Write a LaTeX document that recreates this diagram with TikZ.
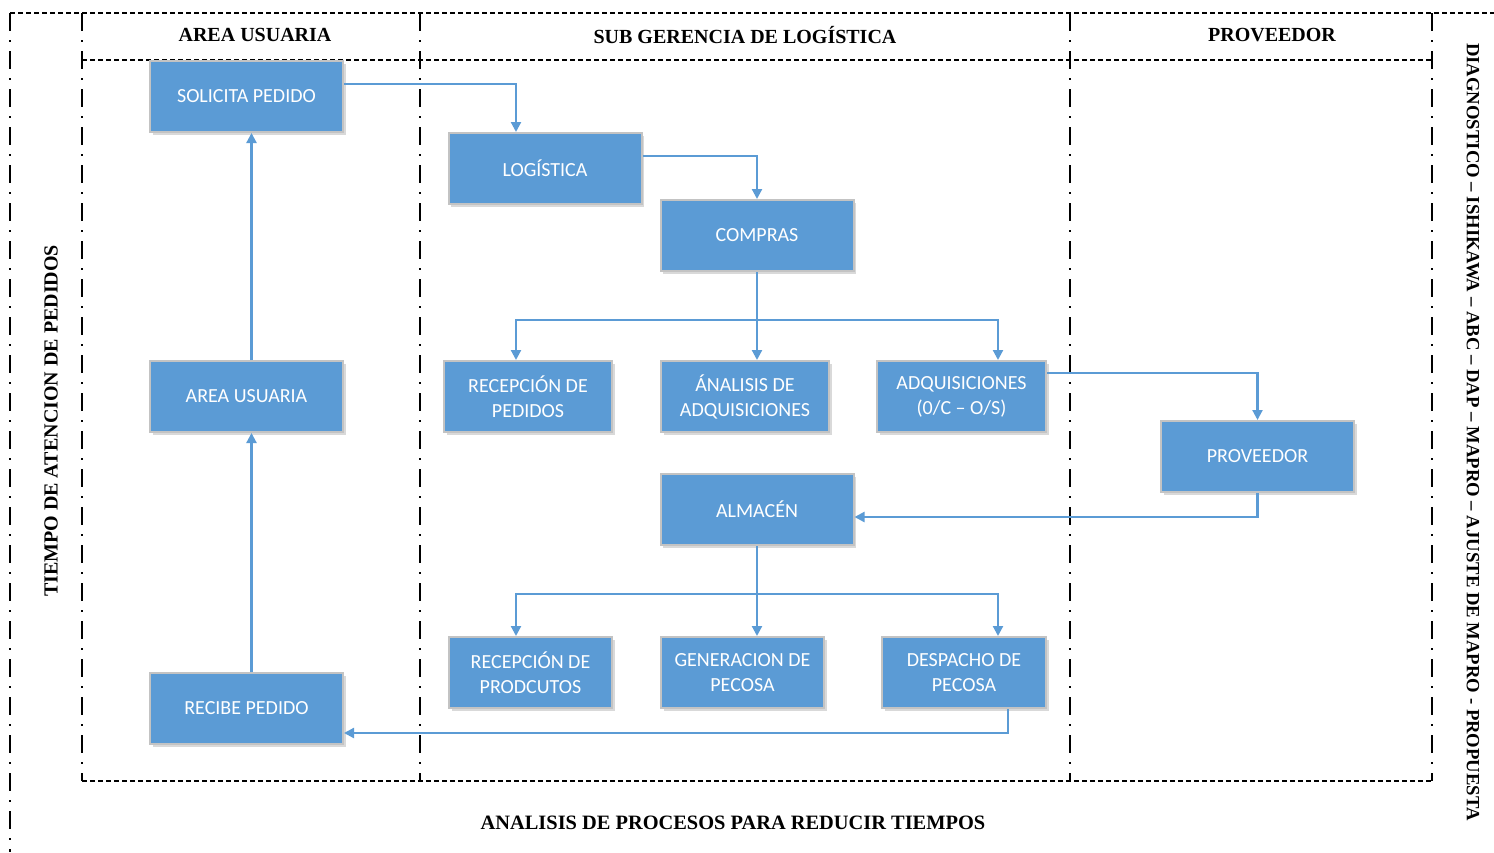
\documentclass[tikz,border=0pt]{standalone}
\usepackage{fontspec}
\setmainfont{Liberation Serif}
\newfontfamily\boxfont{Carlito}
\usetikzlibrary{arrows.meta,shadows}
\definecolor{boxblue}{HTML}{5B9BD5}
\definecolor{boxedge}{HTML}{C3C3C3}
\tikzset{
  procbox/.style={draw=boxedge, line width=2pt, fill=boxblue, text=white,
    minimum width=193pt, minimum height=71pt, inner sep=0pt, align=center,
    font=\boxfont\fontsize{20}{25}\selectfont,
    drop shadow={opacity=0.25, shadow xshift=2.5pt, shadow yshift=-2.5pt, fill=black!60}},
  conn/.style={draw=boxblue, line width=2.2pt},
  arr/.style={conn, -{Triangle[width=10pt,length=10pt]}},
  vline/.style={line width=2.4pt, dash pattern=on 18pt off 9pt on 2pt off 9pt},
  hline/.style={line width=2.2pt, dash pattern=on 5pt off 3pt},
  title/.style={font=\bfseries\fontsize{20}{24}\selectfont, inner sep=0pt}
}
\begin{document}
\begin{tikzpicture}[x=1pt,y=-1pt]
\useasboundingbox (0,0) rectangle (1494,852);
% frame lines
\draw[hline] (10,13) -- (1494,13);
\draw[hline] (82,60) -- (1432,60);
\draw[hline] (82,781) -- (1432,781);
\draw[vline] (10,13) -- (10,852);
\draw[vline] (82,13) -- (82,781);
\draw[vline] (420,13) -- (420,781);
\draw[vline] (1070,13) -- (1070,781);
\draw[vline] (1432,13) -- (1432,781);
% titles
\node[title] (t1) at (255,35) {AREA USUARIA};
\node[title] (t2) at (745,35) {SUB GERENCIA DE LOGÍSTICA};
\node[title] (t3) at (1272,35) {PROVEEDOR};
\node[title, rotate=90] (tl) at (51,421) {TIEMPO DE ATENCION DE PEDIDOS};
\node[title, rotate=-90, font=\bfseries\fontsize{18.7}{22}\selectfont] (tr) at (1473,432) {DIAGNOSTICO – ISHIKAWA – ABC – DAP – MAPRO – AJUSTE DE MAPRO - PROPUESTA};
\node[title, font=\bfseries\fontsize{20.4}{24}\selectfont] (tb) at (733,823) {ANALISIS DE PROCESOS PARA REDUCIR TIEMPOS};
% boxes
\node[procbox] (sol) at (246.5,96.5) {SOLICITA PEDIDO};
\node[procbox] (log) at (545,168.5) {LOGÍSTICA};
\node[procbox] (com) at (757,235.5) {COMPRAS};
\node[procbox, minimum width=168pt] (rp) at (528,396.5) {RECEPCIÓN DE\\PEDIDOS};
\node[procbox, minimum width=168pt] (an) at (745,396.5) {ÁNALISIS DE\\ADQUISICIONES};
\node[procbox, minimum width=169pt] (adq) at (961.5,396.5) {ADQUISICIONES\\(0/C – O/S)};
\node[procbox] (au) at (246.5,396.5) {AREA USUARIA};
\node[procbox] (prov) at (1257.5,456.5) {PROVEEDOR};
\node[procbox] (alm) at (757,509.5) {ALMACÉN};
\node[procbox, minimum width=163pt] (rpr) at (530.5,672.5) {RECEPCIÓN DE\\PRODCUTOS};
\node[procbox, minimum width=163pt] (gen) at (742.5,672.5) {GENERACION DE\\PECOSA};
\node[procbox, minimum width=164pt] (des) at (964,672.5) {DESPACHO DE\\PECOSA};
\node[procbox] (rec) at (246.5,708.5) {RECIBE PEDIDO};
% junctions
\coordinate (j1) at (757,320);
\coordinate (j2) at (757,594);
% connectors
\draw[arr] ([yshift=12.5pt]sol.east) -| ([xshift=-29pt]log.north);
\draw[arr] ([yshift=12.5pt]log.east) -| (com.north);
\draw[conn] (com.south) -- (j1);
\draw[arr] (j1) -| ([xshift=-12pt]rp.north);
\draw[arr] (j1) -- (an.north -| j1);
\draw[arr] (j1) -| ([xshift=36.5pt]adq.north);
\draw[arr] ([yshift=23.5pt]adq.east) -| (prov.north);
\draw[arr] (prov.south) |- ([yshift=-7.5pt]alm.east);
\draw[conn] (alm.south) -- (j2);
\draw[arr] (j2) -| ([xshift=-14.5pt]rpr.north);
\draw[arr] (j2) -- (gen.north -| j2);
\draw[arr] (j2) -| ([xshift=34pt]des.north);
\draw[arr] ([xshift=44pt]des.south) |- ([yshift=-24.5pt]rec.east);
\draw[arr] ([xshift=5pt]rec.north) -- ([xshift=5pt]au.south);
\draw[arr] ([xshift=5pt]au.north) -- ([xshift=5pt]sol.south);
\end{tikzpicture}
\end{document}
